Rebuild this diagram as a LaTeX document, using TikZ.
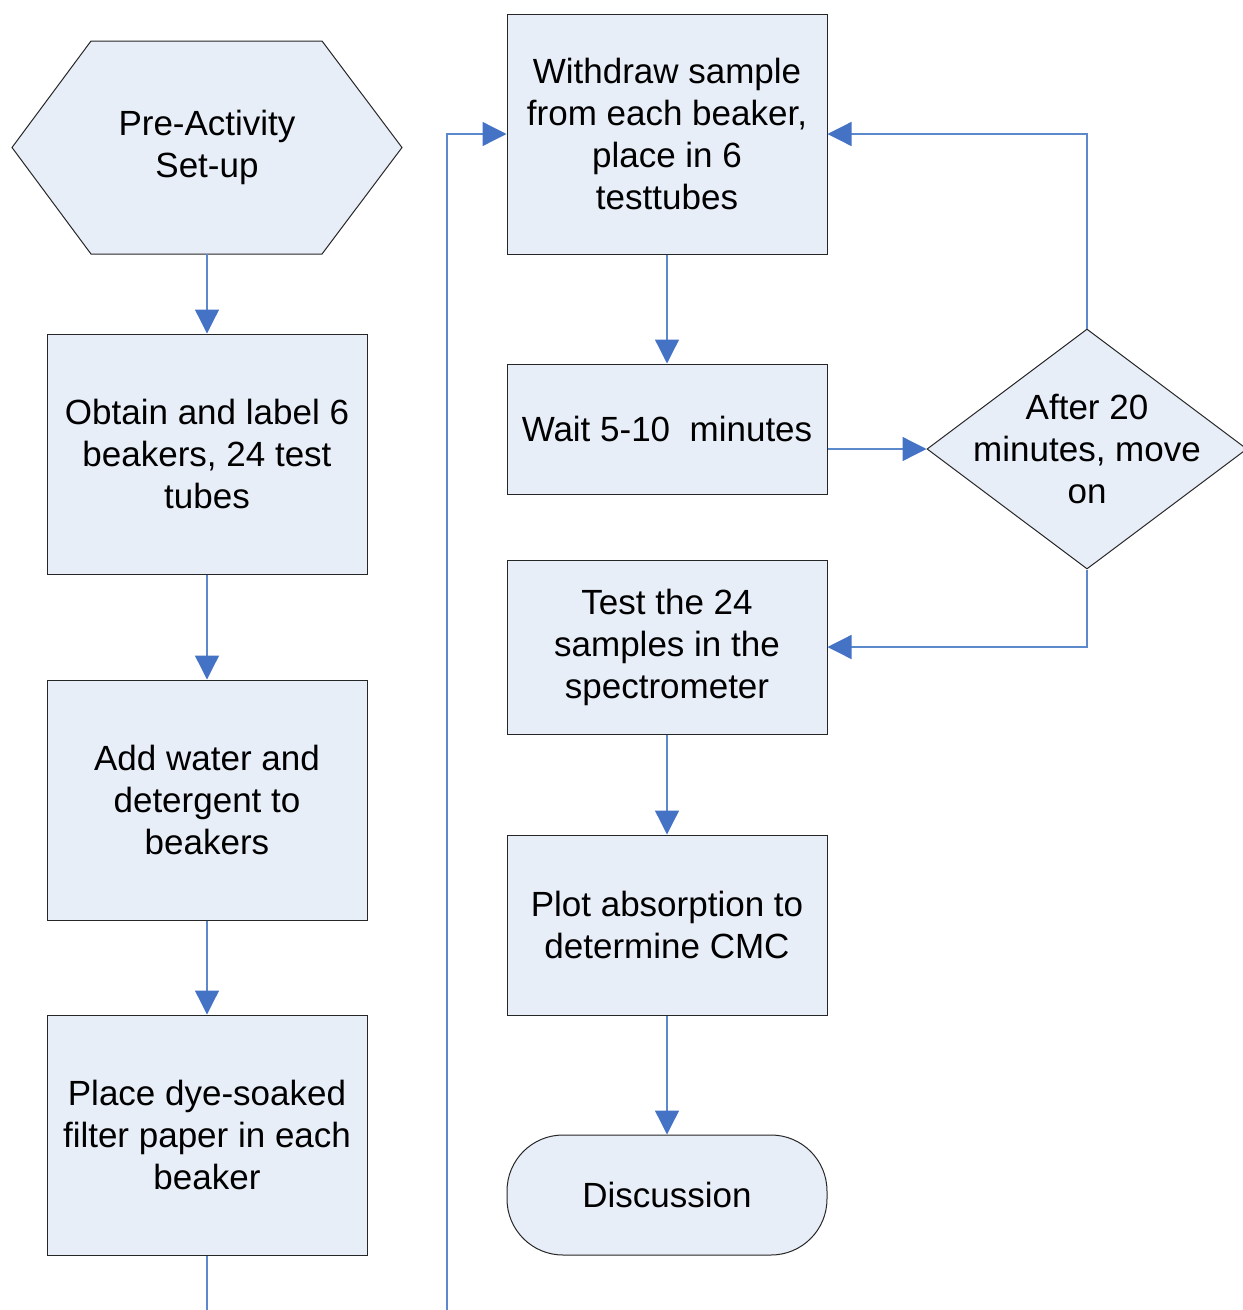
\documentclass[tikz,border=0pt]{standalone}
\usepackage{fontspec}
\setmainfont{Liberation Sans}
\usetikzlibrary{arrows.meta,shapes.geometric}
\definecolor{boxfill}{HTML}{E8EEF8}
\definecolor{linkblue}{HTML}{5B89CC}
\definecolor{tipblue}{HTML}{4472C4}
\tikzset{
  txt/.style={font=\fontsize{35}{42}\selectfont, align=center, inner sep=0pt},
  procbox/.style={txt, draw=black!85, line width=1pt, fill=boxfill, rectangle, minimum width=320pt, minimum height=240pt},
  shape outline/.style={draw=black!85, line width=1pt, fill=boxfill},
  link/.style={draw=linkblue, line width=1.3pt, -{Triangle[length=24pt,width=24pt,fill=tipblue,color=tipblue]}},
  plainlink/.style={draw=linkblue, line width=1.3pt},
}
\begin{document}
\begin{tikzpicture}[x=1pt,y=-1pt]
\useasboundingbox (0,0) rectangle (1243,1310);
% hexagon start
\coordinate (hw) at (12,147.5);
\coordinate (hnw) at (91,41);
\coordinate (hne) at (322,41);
\coordinate (he) at (402,147.5);
\coordinate (hse) at (322,254);
\coordinate (hsw) at (91,254);
\draw[shape outline] (hw) -- (hnw) -- (hne) -- (he) -- (hse) -- (hsw) -- cycle;
\node[txt] (hex) at (207,147.5) {Pre-Activity\\Set-up};
\coordinate (hexs) at (207,254);
% left column
\node[procbox] (b1) at (207,454) {Obtain and label 6\\beakers, 24 test\\tubes};
\node[procbox] (b2) at (207,800) {Add water and\\detergent to\\beakers};
\node[procbox] (b3) at (207,1135) {Place dye-soaked\\filter paper in each\\beaker};
% right column
\node[procbox] (w) at (667,134) {Withdraw sample\\from each beaker,\\place in 6\\testtubes};
\node[procbox, minimum height=130pt] (wait) at (667,429) {Wait 5-10~~minutes};
\node[procbox, minimum height=174pt] (test) at (667,647) {Test the 24\\samples in the\\spectrometer};
\node[procbox, minimum height=180pt] (plot) at (667,925) {Plot absorption to\\determine CMC};
\node[txt, draw=black!85, line width=1pt, fill=boxfill, minimum width=320pt, minimum height=120pt, rounded corners=56pt] (disc) at (667,1195) {Discussion};
% decision
\node[diamond, draw=black!85, line width=1pt, fill=boxfill, minimum width=320pt, minimum height=240pt, inner sep=0pt] (dec) at (1087,449) {};
\node[txt] (dectxt) at (1087,449) {After 20\\minutes, move\\on};
% free ends
\coordinate (leftend) at (207,1312);
\coordinate (loopend) at (447,1312);
\coordinate (loopcorner) at (447,134);
% connectors
\draw[link] (hexs) -- (b1.north);
\draw[link] (b1.south) -- (b2.north);
\draw[link] (b2.south) -- (b3.north);
\draw[plainlink] (b3.south) -- (leftend);
\draw[link] (loopend) -- (loopcorner) -- (w.west);
\draw[link] (w.south) -- (wait.north);
\draw[link] (wait.east |- dec.west) -- (dec.west);
\draw[link] (dec.north) |- (w.east);
\draw[link] (dec.south) |- (test.east);
\draw[link] (test.south) -- (plot.north);
\draw[link] (plot.south) -- (disc.north);
\end{tikzpicture}
\end{document}
